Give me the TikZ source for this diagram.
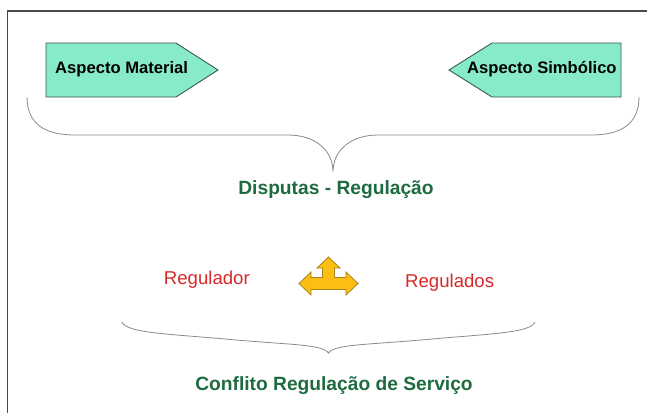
\documentclass[tikz,border=0pt]{standalone}
\usepackage{fontspec}
\setmainfont{Liberation Sans}
\definecolor{mint}{HTML}{86EBC6}
\definecolor{mintline}{HTML}{3C5A50}
\definecolor{dgreen}{HTML}{1F6B40}
\definecolor{rred}{HTML}{D62828}
\definecolor{gold}{HTML}{FBBE12}
\definecolor{goldline}{HTML}{A9821A}
\definecolor{bracegray}{HTML}{8A8A8A}
\definecolor{framegray}{HTML}{4A4A4A}
\tikzset{
  tagshape/.style={fill=mint, draw=mintline, line width=0.9pt, line join=miter},
  tagtext/.style={inner sep=0pt, font=\fontsize{16.6}{19}\selectfont\bfseries, text=black},
  titletext/.style={inner sep=0pt, font=\fontsize{19.2}{22}\selectfont\bfseries, text=dgreen},
  redtext/.style={inner sep=0pt, font=\fontsize{18.6}{22}\selectfont, text=rred},
  bracepath/.style={draw=bracegray, line width=0.8pt},
  arrowshape/.style={fill=gold, draw=goldline, line width=0.8pt, line join=miter}
}
\begin{document}
\begin{tikzpicture}[x=1pt,y=-1pt]
\useasboundingbox (0,0) rectangle (647,413);
% frame (top and left edges)
\draw[framegray, line width=1.4pt] (7.5,413) -- (7.5,11) -- (647,11);
% tag shapes
\path[tagshape] (46,43) -- (176,43) -- (218,70) -- (176,97) -- (46,97) -- cycle;
\path[tagshape] (621,43) -- (492,43) -- (449,70) -- (492,97) -- (621,97) -- cycle;
\node[tagtext, anchor=base west] (mat) at (55,73.5) {Aspecto Material};
\node[tagtext, anchor=base west] (sim) at (467,73.5) {Aspecto Simbólico};
% upper brace
\coordinate (b1tip) at (333,172);
\draw[bracepath] (27,97) .. controls (27,124) and (45,135) .. (75,135) -- (288,135)
  .. controls (315,135) and (333,150) .. (b1tip)
  .. controls (333,150) and (351,135) .. (378,135) -- (591,135)
  .. controls (621,135) and (639,124) .. (639,97);
\node[titletext, anchor=base] (disp) at (336,194) {Disputas - Regulação};
% middle row
\node[redtext, anchor=base east] (regr) at (250,284) {Regulador};
\node[redtext, anchor=base west] (regs) at (405,287) {Regulados};
\path[arrowshape] (299,283.5) -- (311,272) -- (311,277.5) -- (322.5,277.5) -- (322.5,268)
  -- (317,268) -- (328.5,257) -- (340,268) -- (334.5,268) -- (334.5,277.5) -- (346,277.5)
  -- (346,272) -- (358,283.5) -- (346,295) -- (346,289.5) -- (311,289.5) -- (311,295) -- cycle;
% lower brace
\coordinate (b2tip) at (328.5,353);
\draw[bracepath] (122,322) .. controls (126,333) and (170,334) .. (225,339)
  .. controls (290,345) and (322,344) .. (b2tip)
  .. controls (335,344) and (367,345) .. (432,339)
  .. controls (487,334) and (531,333) .. (535,322);
\node[titletext, anchor=base] (conf) at (334,390) {Conflito Regulação de Serviço};
\end{tikzpicture}
\end{document}
